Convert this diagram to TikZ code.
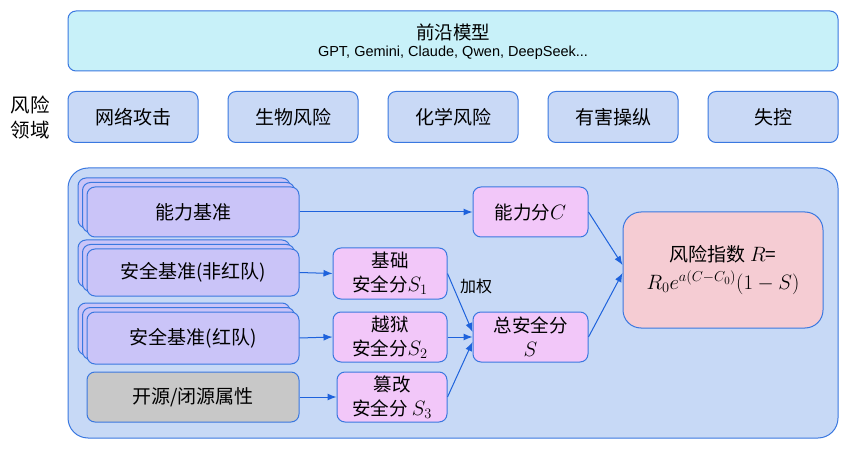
\documentclass[tikz,border=0pt]{standalone}
\usepackage{fontspec}
\setmainfont{Liberation Sans}
\newfontfamily\cjk{Noto Sans CJK SC}
\usetikzlibrary{shadows,arrows.meta}
\newcommand{\mth}[1]{{\fontsize{21.5}{24}\selectfont$#1$}}
\definecolor{bord}{HTML}{3A78E0}
\definecolor{arr}{HTML}{1E62DC}
\definecolor{topfill}{HTML}{C8F1F9}
\definecolor{riskfill}{HTML}{C9D9F6}
\definecolor{contfill}{HTML}{C7D9F6}
\definecolor{lav}{HTML}{CAC4F8}
\definecolor{pink}{HTML}{F2C7F9}
\definecolor{rose}{HTML}{F5CCD3}
\definecolor{grayf}{HTML}{C8C8C8}
\tikzset{
  bx/.style={draw=bord, line width=1pt, rounded corners=8pt, inner sep=0pt, align=center, font=\cjk\fontsize{19}{24}\selectfont, text=black},
  riskbox/.style={bx, fill=riskfill, minimum width=130pt, minimum height=51pt, font=\cjk\fontsize{19}{22}\selectfont},
  benchbox/.style={bx, fill=lav, minimum width=212pt, double copy shadow={shadow xshift=-4.5pt, shadow yshift=4.5pt, draw=bord, fill=lav}},
  scorebox/.style={bx, fill=pink, font=\cjk\fontsize{18.5}{24}\selectfont},
  conn/.style={draw=arr, line width=1pt, -{Latex[length=9pt,width=7pt]}},
}
\begin{document}
\begin{tikzpicture}[x=1pt,y=-1pt]
\useasboundingbox (0,0) rectangle (849,449);
% top
\node[bx, fill=topfill, minimum width=770pt, minimum height=60pt] (top) at (453,41) {};
\node[font=\cjk\fontsize{18.5}{22}\selectfont] (toptitle) at (453,32) {前沿模型};
\node[font=\fontsize{14.5}{16}\selectfont] (topsub) at (453,53) {GPT, Gemini, Claude, Qwen, DeepSeek...};
% risk domain label
\node[font=\cjk\fontsize{19.5}{25}\selectfont, align=center] (dom) at (30,118) {风险\\领域};
\node[riskbox] (r1) at (133,117) {网络攻击};
\node[riskbox] (r2) at (293,117) {生物风险};
\node[riskbox] (r3) at (453,117) {化学风险};
\node[riskbox] (r4) at (613,117) {有害操纵};
\node[riskbox] (r5) at (773,117) {失控};
% container
\node[draw=bord, line width=1pt, fill=contfill, rounded corners=20pt, minimum width=770pt, minimum height=270pt, inner sep=0pt] (cont) at (453,303) {};
% benchmarks
\node[benchbox, minimum height=50pt] (cap) at (193,212) {能力基准};
\node[benchbox, minimum height=47pt] (safe1) at (193,272.5) {安全基准(非红队)};
\node[benchbox, minimum height=52pt] (safe2) at (193,338) {安全基准(红队)};
\node[bx, fill=grayf, minimum width=212pt, minimum height=50pt] (open) at (193,397) {开源/闭源属性};
% scores
\node[scorebox, minimum width=114pt, minimum height=51pt] (s1) at (390,273.5) {基础\\安全分\mth{S_1}};
\node[scorebox, minimum width=114pt, minimum height=50pt] (s2) at (390,337) {越狱\\安全分\mth{S_2}};
\node[scorebox, minimum width=110pt, minimum height=50pt] (s3) at (392,397) {篡改\\安全分 \mth{S_3}};
\node[scorebox, minimum width=115pt, minimum height=50pt] (cs) at (530.5,212) {能力分\mth{C}};
\node[scorebox, minimum width=115pt, minimum height=50pt] (ts) at (530.5,337) {总安全分\\\mth{S}};
\node[bx, fill=rose, rounded corners=18pt, minimum width=200pt, minimum height=116pt, font=\cjk\fontsize{19}{28}\selectfont] (ri) at (723,270) {风险指数 \mth{R}=\\\mth{R_0e^{a(C-C_0)}(1-S)}};
\node[font=\cjk\fontsize{16}{18}\selectfont] (jq) at (476,286) {加权};
% connectors
\draw[conn] (cap.east) -- (cs.west);
\draw[conn] (safe1.east) -- (s1.west);
\draw[conn] (safe2.east) -- (s2.west);
\draw[conn] (open.east) -- (s3.west);
\draw[conn] (s1.east) -- ([yshift=5pt]ts.west);
\draw[conn] (s2.east) -- (ts.west);
\draw[conn] (s3.east) -- ([yshift=-5pt]ts.west);
\draw[conn] (cs.east) -- ([yshift=5pt]ri.west);
\draw[conn] (ts.east) -- ([yshift=-3pt]ri.west);
\end{tikzpicture}
\end{document}
